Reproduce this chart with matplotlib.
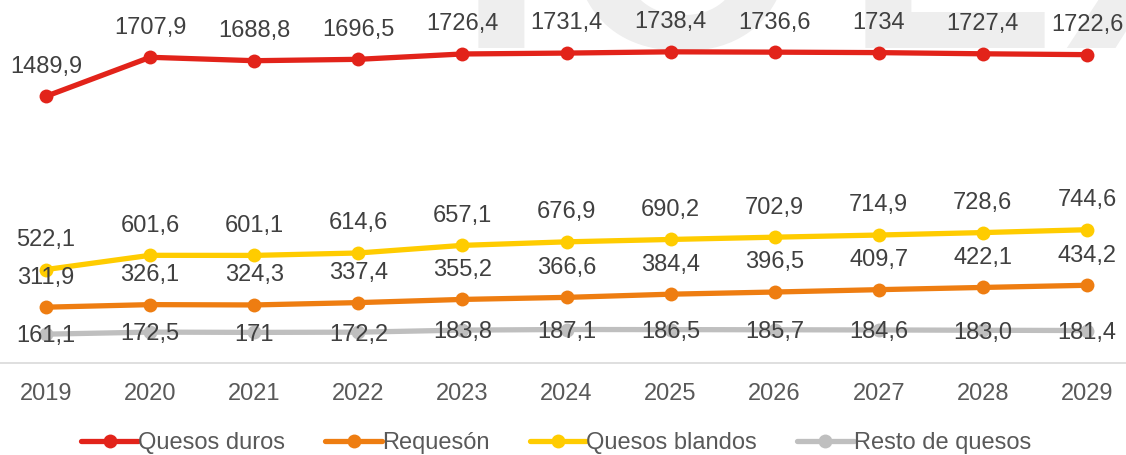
import matplotlib
matplotlib.use("Agg")
import matplotlib.pyplot as plt

years = ["2019", "2020", "2021", "2022", "2023", "2024", "2025", "2026", "2027", "2028", "2029"]
duros = [1489.9, 1707.9, 1688.8, 1696.5, 1726.4, 1731.4, 1738.4, 1736.6, 1734, 1727.4, 1722.6]
blandos = [522.1, 601.6, 601.1, 614.6, 657.1, 676.9, 690.2, 702.9, 714.9, 728.6, 744.6]
requeson = [311.9, 326.1, 324.3, 337.4, 355.2, 366.6, 384.4, 396.5, 409.7, 422.1, 434.2]
resto = [161.1, 172.5, 171, 172.2, 183.8, 187.1, 186.5, 185.7, 184.6, 183.0, 181.4]

duros_lbl = ["1489,9", "1707,9", "1688,8", "1696,5", "1726,4", "1731,4", "1738,4", "1736,6", "1734", "1727,4", "1722,6"]
blandos_lbl = ["522,1", "601,6", "601,1", "614,6", "657,1", "676,9", "690,2", "702,9", "714,9", "728,6", "744,6"]
requeson_lbl = ["311,9", "326,1", "324,3", "337,4", "355,2", "366,6", "384,4", "396,5", "409,7", "422,1", "434,2"]
resto_lbl = ["161,1", "172,5", "171", "172,2", "183,8", "187,1", "186,5", "185,7", "184,6", "183,0", "181,4"]

plt.rcParams['font.family'] = ['Liberation Sans', 'DejaVu Sans']

W, H = 1126, 455
fig = plt.figure(figsize=(W / 100, H / 100), dpi=100)

# faint watermark (logo letters, cut at the top), kept behind the chart
wm_color = '#eeeeee'
for ch, xc in [("I", 501), ("C", 675), ("E", 950), ("X", 1170)]:
    t = fig.text(xc / W, 1 - 48 / H, ch, fontsize=230, fontweight='bold', color=wm_color,
                 ha='center', va='baseline')
    t.set_zorder(-10)

ax = fig.add_axes([-6 / W, 92 / H, 1145 / W, 358 / H])
ax.set_zorder(5)
ax.patch.set_alpha(0)

x = list(range(len(years)))
series = [
    ("Quesos duros", duros, duros_lbl, '#E2231A', 17),
    ("Requesón", requeson, requeson_lbl, '#EE7D11', 17),
    ("Quesos blandos", blandos, blandos_lbl, '#FFCC00', 17),
    ("Resto de quesos", resto, resto_lbl, '#BFBFBF', -6),
]

handles = []
for name, vals, lbls, col, off in series:
    h, = ax.plot(x, vals, color=col, lw=3.8, marker='o', markersize=10,
                 markeredgewidth=0, label=name, zorder=2, solid_capstyle='round')
    handles.append(h)
    for xi, v, s in zip(x, vals, lbls):
        ax.annotate(s, (xi, v), xytext=(0, off), textcoords='offset points',
                    ha='center', va='baseline', fontsize=17, color='#404040', zorder=4)

ax.set_xlim(-0.5, len(years) - 0.5)
ax.set_ylim(0, 2000)
ax.set_xticks(x)
ax.set_xticklabels(years)
ax.tick_params(axis='x', length=0, pad=14.5, labelsize=17, labelcolor='#595959')
ax.set_yticks([])
for sp in ['top', 'right', 'left']:
    ax.spines[sp].set_visible(False)
ax.spines['bottom'].set_color('#d9d9d9')
ax.spines['bottom'].set_linewidth(1.2)

leg = fig.legend(handles=handles, loc='center', bbox_to_anchor=(0.494, 1 - 443 / H),
                 ncol=4, frameon=False, fontsize=17, handlelength=2.4, handletextpad=0.0,
                 columnspacing=1.7, labelcolor='#595959', numpoints=1)
leg.set_zorder(6)

fig.savefig("out.png", dpi=100)
